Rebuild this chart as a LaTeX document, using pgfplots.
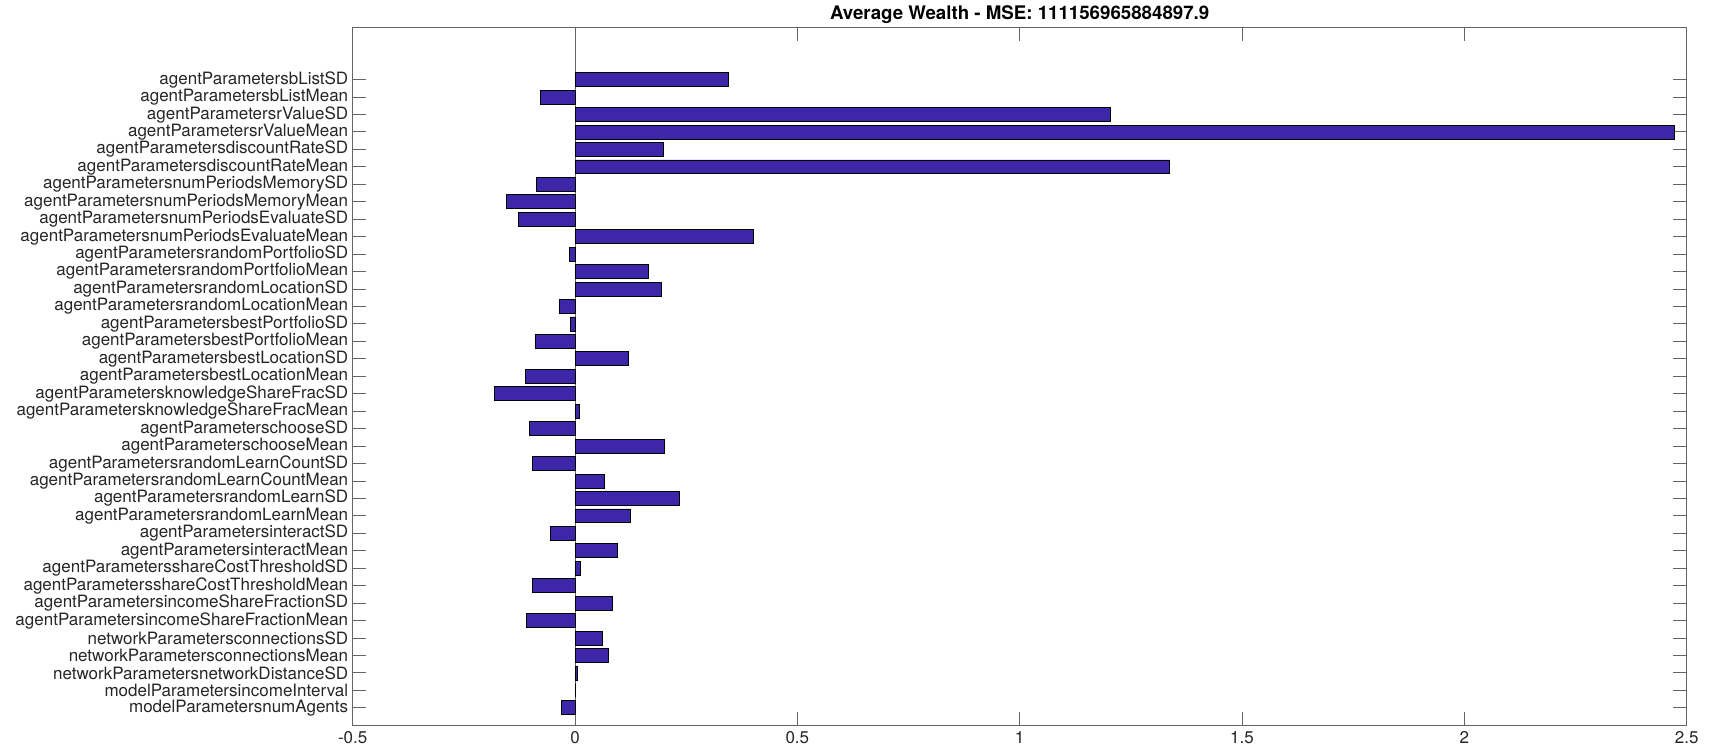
\documentclass[border=0pt]{standalone}
\usepackage{pgfplots}
\usepackage{pgfplotstable}
\pgfplotsset{compat=1.18}
\usepackage{fontspec}
\setmainfont{TeX Gyre Heros}
\definecolor{barc}{RGB}{62,38,168}
\definecolor{axc}{RGB}{100,100,100}
\definecolor{txt}{RGB}{38,38,38}

\pgfplotstableread{
y v
1 -0.0315
2 0
3 0.006
4 0.0749
5 0.0614
6 -0.1087
7 0.0847
8 -0.096
9 0.0112
10 0.096
11 -0.0547
12 0.1244
13 0.2346
14 0.066
15 -0.096
16 0.201
17 -0.102
18 0.0105
19 -0.181
20 -0.111
21 0.120
22 -0.0884
23 -0.0112
24 -0.0353
25 0.194
26 0.1657
27 -0.0128
28 0.401
29 -0.127
30 -0.154
31 -0.087
32 1.337
33 0.1994
34 2.473
35 1.203
36 -0.0787
37 0.346
}\datatable

\begin{document}
\begin{tikzpicture}[x=1pt,y=1pt]
\path[use as bounding box] (0,0) rectangle (1711,753);
\begin{axis}[
  at={(352.7pt,27.7pt)}, anchor=south west,
  scale only axis, width=1334pt, height=698pt,
  xmin=-0.5, xmax=2.5, ymin=0, ymax=40,
  xbar, bar width=0.8,
  xtick={-0.5,0,0.5,1,1.5,2,2.5},
  xticklabels={-0.5,0,0.5,1,1.5,2,2.5},
  ytick={1,...,37},
  yticklabels={modelParametersnumAgents,modelParametersincomeInterval,networkParametersnetworkDistanceSD,networkParametersconnectionsMean,networkParametersconnectionsSD,agentParametersincomeShareFractionMean,agentParametersincomeShareFractionSD,agentParametersshareCostThresholdMean,agentParametersshareCostThresholdSD,agentParametersinteractMean,agentParametersinteractSD,agentParametersrandomLearnMean,agentParametersrandomLearnSD,agentParametersrandomLearnCountMean,agentParametersrandomLearnCountSD,agentParameterschooseMean,agentParameterschooseSD,agentParametersknowledgeShareFracMean,agentParametersknowledgeShareFracSD,agentParametersbestLocationMean,agentParametersbestLocationSD,agentParametersbestPortfolioMean,agentParametersbestPortfolioSD,agentParametersrandomLocationMean,agentParametersrandomLocationSD,agentParametersrandomPortfolioMean,agentParametersrandomPortfolioSD,agentParametersnumPeriodsEvaluateMean,agentParametersnumPeriodsEvaluateSD,agentParametersnumPeriodsMemoryMean,agentParametersnumPeriodsMemorySD,agentParametersdiscountRateMean,agentParametersdiscountRateSD,agentParametersrValueMean,agentParametersrValueSD,agentParametersbListMean,agentParametersbListSD},
  tick align=inside,
  major tick length=13.3pt,
  axis line style={axc, line width=1pt},
  every tick/.style={axc, line width=1pt},
  tick label style={font=\fontsize{17}{19}\selectfont, text=txt},
  yticklabel style={xshift=-1pt},
  xticklabel style={yshift=-3pt},
  every axis title shift=0pt,
  title={Average Wealth - MSE: 111156965884897.9},
  title style={font=\fontsize{18.7}{21}\selectfont\bfseries, text=black, at={(0.5,1)}, anchor=base, yshift=7.8pt},
]
\draw[axc, line width=1pt] (axis cs:0,0) -- (axis cs:0,40);
\addplot[fill=barc, draw=black, line width=0.8pt] table[x=v,y=y]{\datatable};
\end{axis}
\end{tikzpicture}
\end{document}
